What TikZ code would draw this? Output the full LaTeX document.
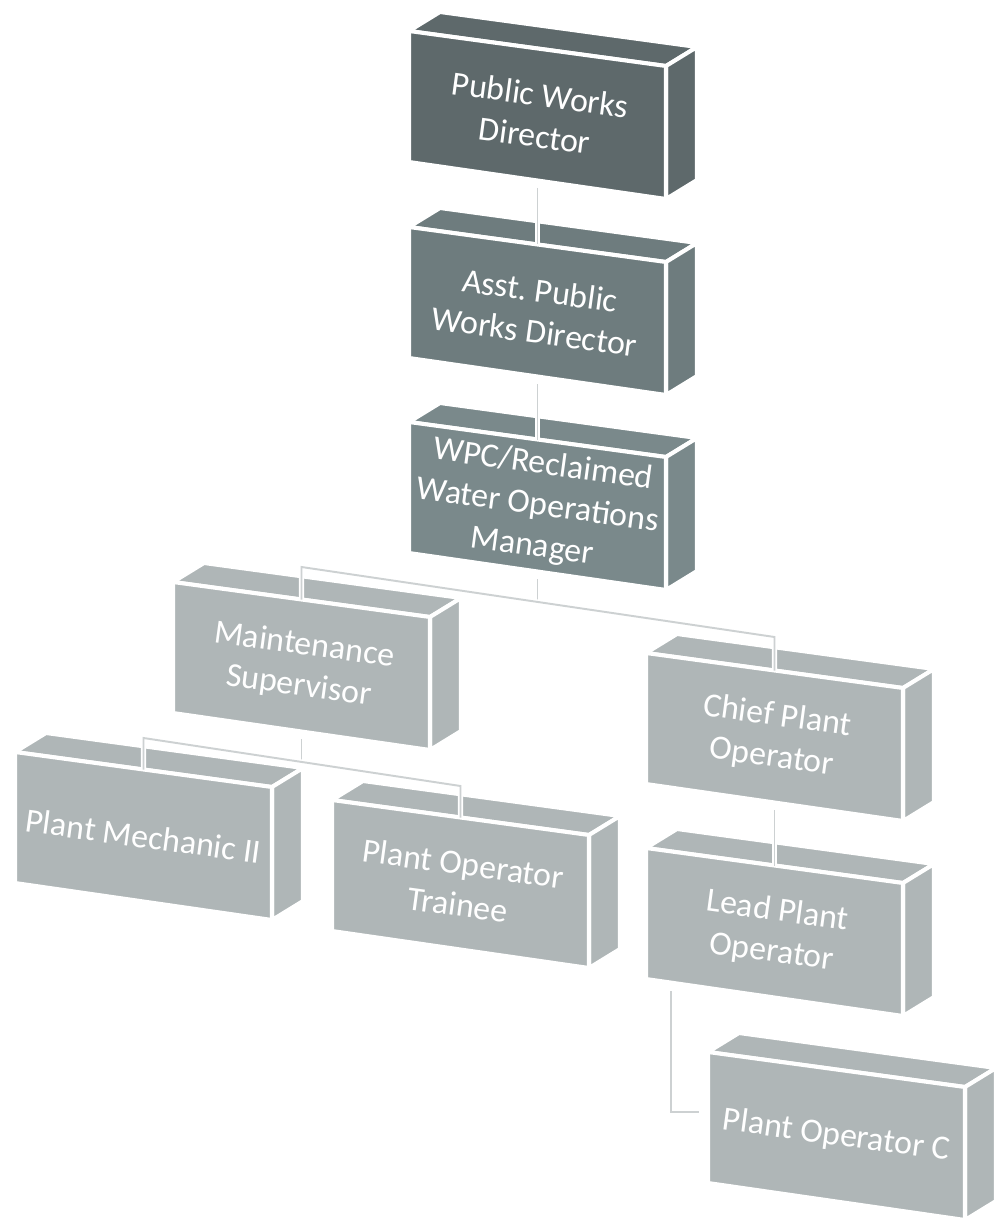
\documentclass[tikz,border=0pt]{standalone}
\usepackage{fontspec}
\setmainfont{Carlito}
\frenchspacing
\definecolor{cA}{RGB}{94,105,107}
\definecolor{cB}{RGB}{110,124,126}
\definecolor{cC}{RGB}{122,137,139}
\definecolor{cD}{RGB}{175,182,183}
\definecolor{cline}{RGB}{205,209,210}
\tikzset{
  face/.style={draw=white, line width=2.3pt, line join=miter},
  boxtext/.style={text=white, align=center, inner sep=0pt,
    font=\fontsize{19.3pt}{23.5pt}\selectfont, rotate=-7.75},
  conn/.style={draw=white, line width=0.9pt, double=cline, double distance=1.1pt}
}
\newcommand\orgbox[5]{%
  \begin{scope}[shift={(#2,#3)}]
    \path[face, fill=#4] (0,0) -- (31,-19) -- (288,16) -- (257,35) -- cycle;
    \path[face, fill=#4] (257,35) -- (288,16) -- (288,149) -- (257,168) -- cycle;
    \path[face, fill=#4] (0,0) -- (257,35) -- (257,168) -- (0,131) -- cycle;
    \coordinate (#1-top) at (128.5,17.5);
    \coordinate (#1-bot) at (128.5,157);
    \coordinate (#1-lo) at (25,143);
    \coordinate (#1-left) at (-9,60);
    \node[boxtext] (#1) at (128.5,84) {#5};
  \end{scope}}
\begin{document}
\begin{tikzpicture}[x=0.02cm, y=-0.02cm]
  \useasboundingbox[fill=white] (0,0) rectangle (997,1226);
  \orgbox{pwd}{409}{31}{cA}{Public Works\\Director}
  \orgbox{apwd}{409}{227}{cB}{Asst. Public\\Works Director}
  \orgbox{wpc}{409}{422}{cC}{WPC/Reclaimed\\Water Operations\\Manager}
  \orgbox{ms}{173}{582}{cD}{Maintenance\\Supervisor}
  \orgbox{cpo}{646}{653}{cD}{Chief Plant\\Operator}
  \orgbox{pm}{15}{752}{cD}{Plant Mechanic II}
  \orgbox{pot}{332}{800}{cD}{Plant Operator\\Trainee}
  \orgbox{lpo}{646}{848}{cD}{Lead Plant\\Operator}
  \orgbox{poc}{708}{1052}{cD}{Plant Operator C}
  % bus coordinates
  \coordinate (b1L) at (301.5,567);
  \coordinate (b1R) at (774.5,637);
  \coordinate (b1M) at (537.5,602);
  \coordinate (b2L) at (143.5,738);
  \coordinate (b2R) at (460.5,786);
  \coordinate (b2M) at (301.5,762);
  % connectors
  \draw[conn] (pwd-bot) -- (apwd-top);
  \draw[conn] (apwd-bot) -- (wpc-top);
  \draw[conn] (wpc-bot) -- (b1M);
  \draw[conn] (ms-top) -- (b1L) -- (b1R) -- (cpo-top);
  \draw[conn] (ms-bot) -- (b2M);
  \draw[conn] (pm-top) -- (b2L) -- (b2R) -- (pot-top);
  \draw[conn] (cpo-bot) -- (lpo-top);
  \draw[conn] (lpo-lo) |- (poc-left);
\end{tikzpicture}
\end{document}
